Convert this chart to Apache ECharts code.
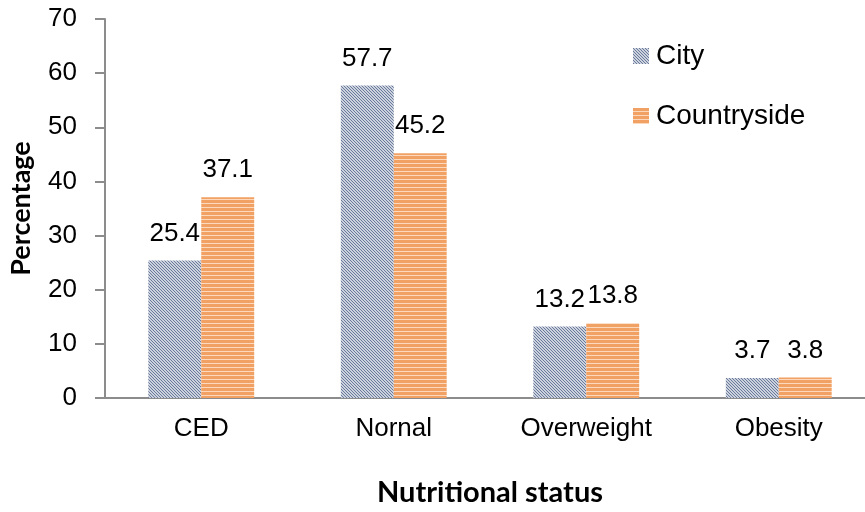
<!DOCTYPE html>
<html>
<head>
<meta charset="utf-8">
<script src="https://cdn.jsdelivr.net/npm/echarts@6/dist/echarts.min.js"></script>
<style>
  html, body { margin: 0; padding: 0; background: #fff; }
  /* the plot area runs slightly past the right edge, so the frame clips it */
  #frame { width: 865px; height: 512px; overflow: hidden; position: relative; }
  #chart { position: absolute; left: 0; top: 0; width: 880px; height: 512px; }
</style>
</head>
<body>
<div id="frame"><div id="chart"></div></div>
<script>
// Nutritional status by residence (percent)
const categories = ['CED', 'Nornal', 'Overweight', 'Obesity'];
const cityValues = [25.4, 57.7, 13.2, 3.7];
const countrysideValues = [37.1, 45.2, 13.8, 3.8];
const yTicks = { min: 0, max: 70, interval: 10 };

// Diagonal hatch tile for the City bars
function hatchTile() {
  const c = document.createElement('canvas');
  c.width = 3; c.height = 3;
  const g = c.getContext('2d');
  g.fillStyle = '#cbd2de';
  g.fillRect(0, 0, 3, 3);
  g.fillStyle = '#6a7a9a';
  for (let i = 0; i < 3; i++) g.fillRect(i, i, 1, 1);
  return c;
}

// Horizontal stripe tile for the Countryside bars
function stripeTile() {
  const c = document.createElement('canvas');
  c.width = 4; c.height = 4;
  const g = c.getContext('2d');
  g.fillStyle = '#f2a164';
  g.fillRect(0, 0, 4, 4);
  g.fillStyle = '#fcd9bd';
  g.fillRect(0, 3, 4, 1);
  return c;
}

const font = "'Liberation Sans', Arial, sans-serif";
const titleFont = "Lato, 'Liberation Sans', sans-serif";
const axisColor = '#8c8c8c';

const chart = echarts.init(document.getElementById('chart'), null, { renderer: 'canvas' });

const labelStyle = {
  show: true,
  position: 'top',
  distance: 14,
  color: '#000',
  fontFamily: font,
  fontSize: 26
};

chart.setOption({
  animation: false,
  backgroundColor: '#fff',
  grid: { left: 105, top: 19, width: 770, height: 382, containLabel: false },
  legend: {
    orient: 'vertical',
    left: 628,
    top: 37,
    itemWidth: 16,
    itemHeight: 16,
    itemGap: 32,
    icon: 'rect',
    textStyle: { fontFamily: font, fontSize: 28, color: '#000', padding: [0, 0, 0, 2] },
    data: ['City', 'Countryside']
  },
  xAxis: {
    type: 'category',
    data: categories,
    name: 'Nutritional status',
    nameLocation: 'middle',
    nameGap: 80,
    nameTextStyle: { fontFamily: titleFont, fontWeight: 'bold', fontSize: 29, color: '#000' },
    axisLine: { lineStyle: { color: axisColor, width: 2 } },
    axisTick: { show: false },
    axisLabel: { margin: 18, color: '#000', fontFamily: font, fontSize: 26 }
  },
  yAxis: {
    type: 'value',
    min: yTicks.min,
    max: yTicks.max,
    interval: yTicks.interval,
    name: 'Percentage',
    nameLocation: 'middle',
    nameRotate: 90,
    nameGap: 70,
    nameTextStyle: { fontFamily: titleFont, fontWeight: 'bold', fontSize: 27, color: '#000' },
    axisLine: { show: true, lineStyle: { color: axisColor, width: 2 } },
    axisTick: { show: true, length: 10, lineStyle: { color: axisColor, width: 2 } },
    axisLabel: { margin: 28, color: '#000', fontFamily: font, fontSize: 26 },
    splitLine: { show: false }
  },
  series: [
    {
      name: 'City',
      type: 'bar',
      data: cityValues,
      barGap: '0%',
      barCategoryGap: '45%',
      itemStyle: { color: { image: hatchTile(), repeat: 'repeat' } },
      label: labelStyle
    },
    {
      name: 'Countryside',
      type: 'bar',
      data: countrysideValues,
      barGap: '0%',
      barCategoryGap: '45%',
      itemStyle: { color: { image: stripeTile(), repeat: 'repeat' } },
      label: labelStyle
    }
  ]
});
</script>
</body>
</html>
